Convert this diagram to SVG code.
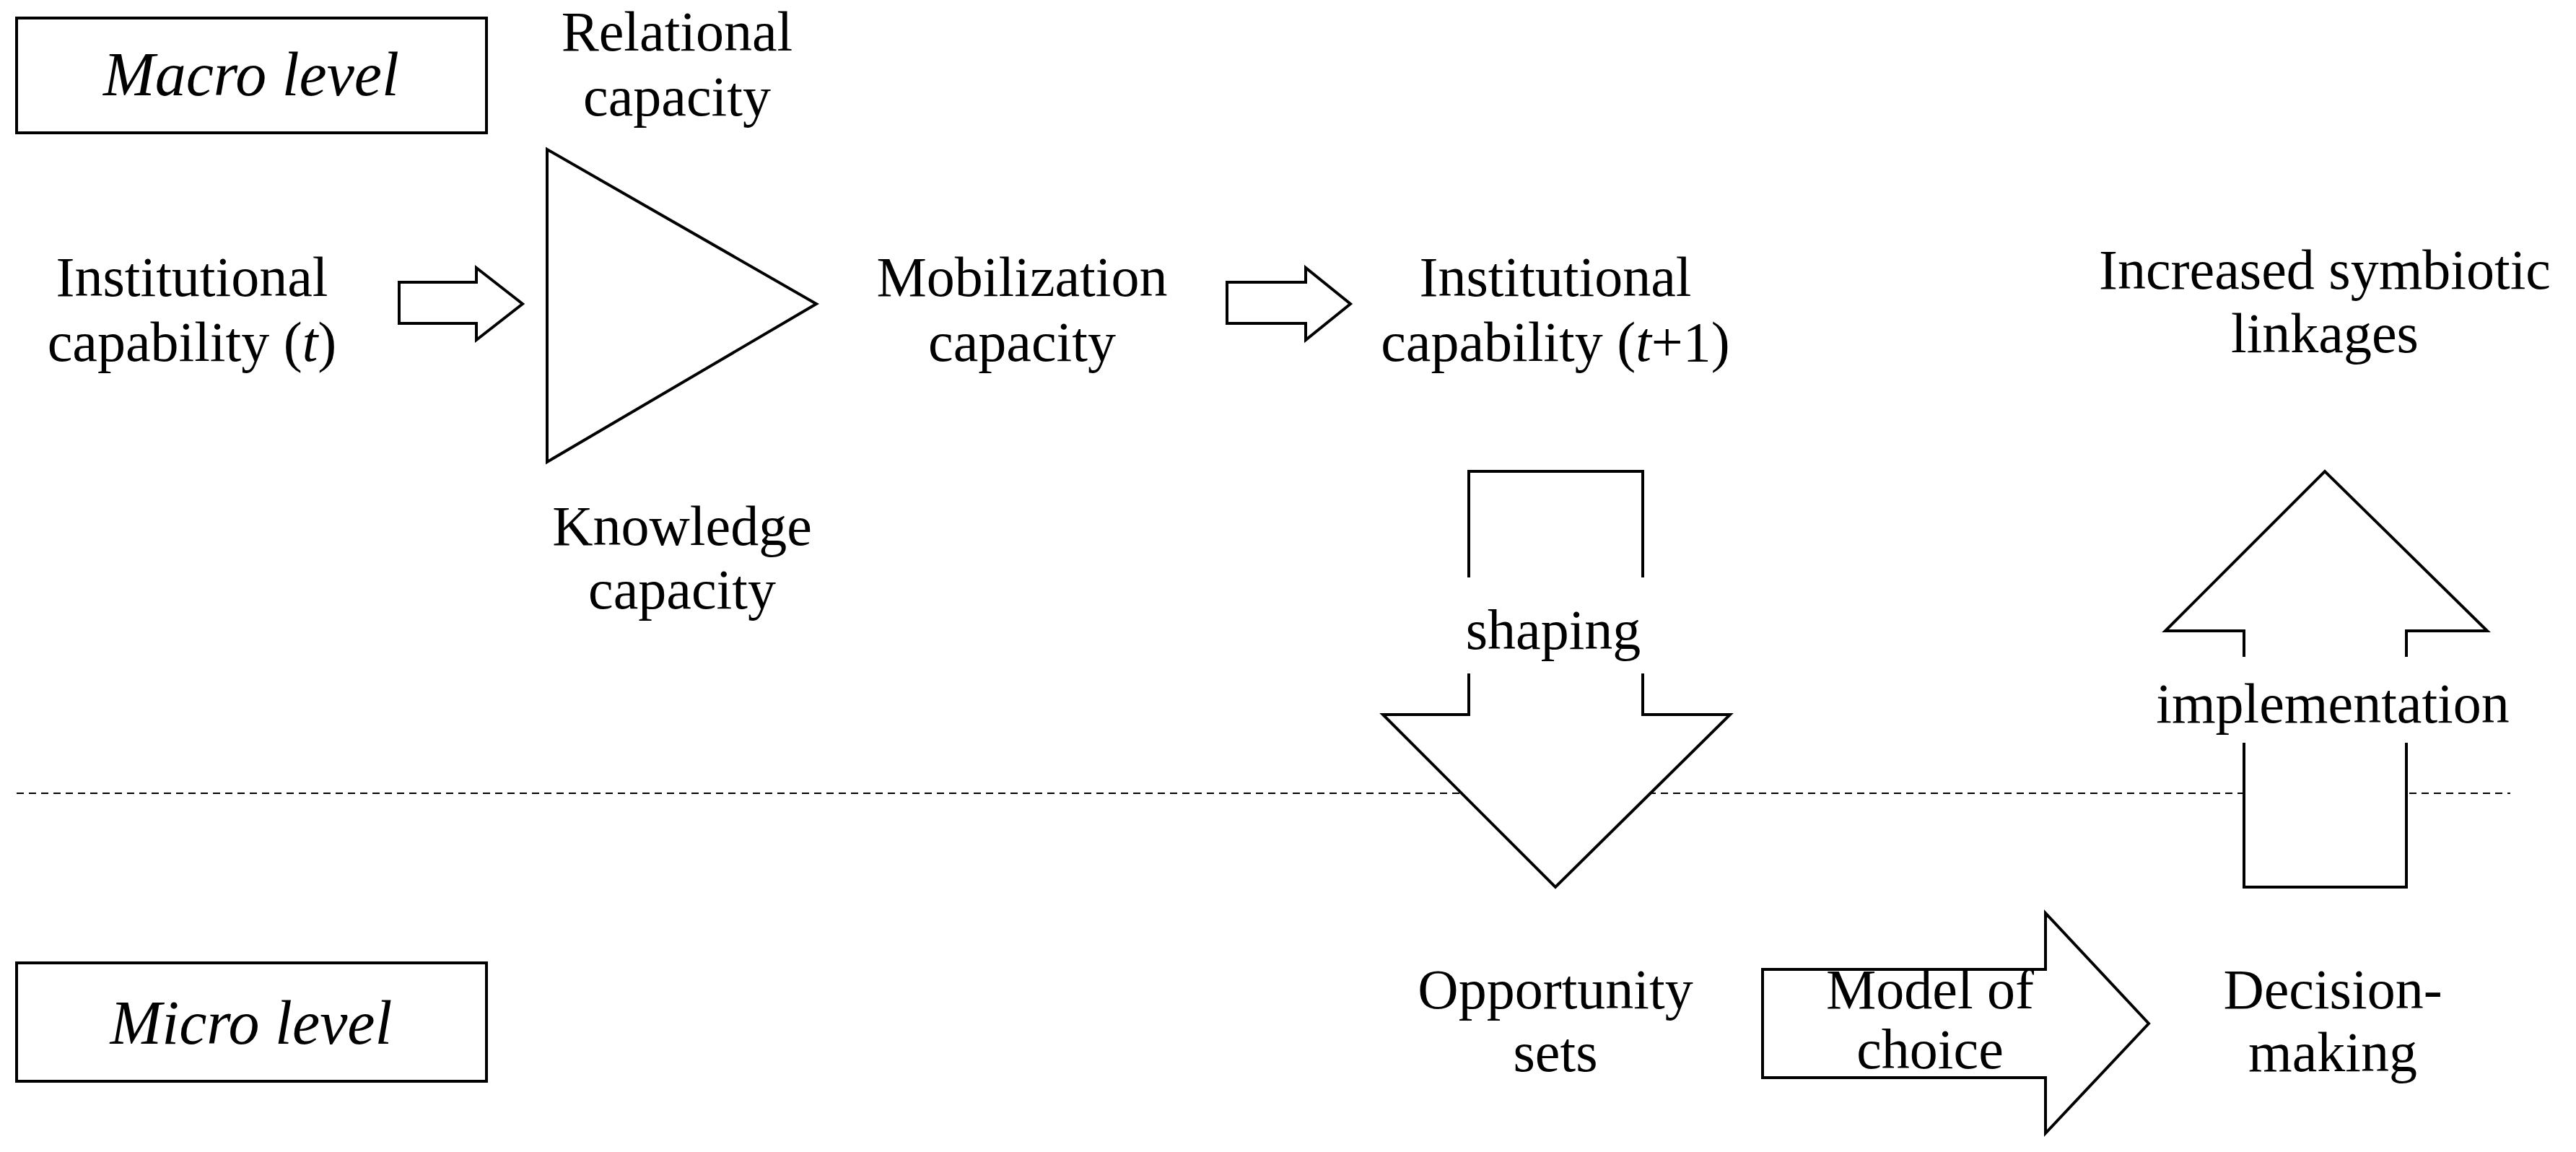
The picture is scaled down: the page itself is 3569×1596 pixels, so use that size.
<svg xmlns="http://www.w3.org/2000/svg" width="3569" height="1596" viewBox="0 0 3569 1596">
<style>
text{font-family:"Liberation Serif","DejaVu Serif",serif;font-size:78px;fill:#000;text-anchor:middle}
.it{font-style:italic}
.big{font-size:86px;font-style:italic}
.s{fill:none;stroke:#000;stroke-width:4}
.f{fill:#fff;stroke:#000;stroke-width:4}
</style>
<rect width="3569" height="1596" fill="#fff"/>
<g id="connectors">
<line x1="23" y1="1099" x2="3478" y2="1099" stroke="#000" stroke-width="2" stroke-dasharray="10,7"/>
<polygon class="f" points="553,391 660,391 660,371 724,421 660,471 660,448 553,448"/>
<polygon class="f" points="1700,391 1809,391 1809,371 1871,421 1809,471 1809,448 1700,448"/>
<g id="shaping">
<polyline class="f" points="2035,800 2035,653 2276,653 2276,800"/>
<rect x="2030" y="800" width="252" height="130" fill="#fff"/>
<polyline class="f" points="2035,933 2035,990 1916,990 2155,1229 2397,990 2276,990 2276,933"/>
<text x="2152" y="899">shaping</text>
</g>
<g id="implementation">
<polyline class="f" points="3109,910 3109,874 3000,874 3221,653 3446,874 3334,874 3334,910"/>
<polyline class="f" points="3109,1029 3109,1229 3334,1229 3334,1029"/>
<text x="3232" y="1001">implementation</text>
</g>
<g id="choice">
<polygon class="f" points="2442,1343 2834,1343 2834,1265 2977,1418 2834,1570 2834,1493 2442,1493"/>
<text x="2674" y="1397">Model of</text>
<text x="2674" y="1480">choice</text>
</g>
</g>
<g id="macro"><rect class="s" x="23" y="25" width="651" height="159"/><text class="big" x="348" y="132">Macro level</text></g>
<g id="micro"><rect class="s" x="23" y="1334" width="651" height="164"/><text class="big" x="348" y="1446">Micro level</text></g>
<g id="relational"><text x="938" y="70">Relational</text><text x="938" y="160">capacity</text></g>
<g id="triangle"><polygon class="f" points="758,207 1131,421 758,640"/></g>
<g id="knowledge"><text x="945" y="755">Knowledge</text><text x="945" y="843">capacity</text></g>
<g id="inst-t"><text x="266" y="410">Institutional</text><text x="266" y="500">capability (<tspan class="it">t</tspan>)</text></g>
<g id="mobilization"><text x="1416" y="410">Mobilization</text><text x="1416" y="500">capacity</text></g>
<g id="inst-t1"><text x="2155" y="410">Institutional</text><text x="2155" y="500">capability (<tspan class="it">t</tspan>+1)</text></g>
<g id="symbiotic"><text x="3221" y="400">Increased symbiotic</text><text x="3221" y="488">linkages</text></g>
<g id="opportunity"><text x="2155" y="1397">Opportunity</text><text x="2155" y="1484">sets</text></g>
<g id="decision"><text x="3232" y="1397">Decision-</text><text x="3232" y="1484">making</text></g>
</svg>
